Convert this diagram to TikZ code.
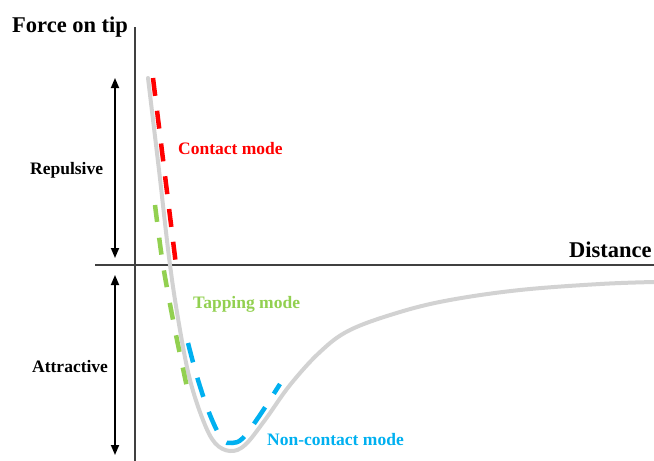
\documentclass[tikz,border=0pt]{standalone}
\usepackage{fontspec}
\setmainfont{Liberation Serif}
\usetikzlibrary{arrows.meta}
\definecolor{cred}{HTML}{FF0000}
\definecolor{cgreen}{HTML}{92D050}
\definecolor{cblue}{HTML}{00B0F0}
\definecolor{cgray}{HTML}{D2D2D2}
\definecolor{caxis}{HTML}{404040}
\tikzset{
  lbl/.style={anchor=base west, inner sep=0pt, font=\fontsize{17.5}{20}\selectfont\bfseries},
  biglbl/.style={anchor=base west, inner sep=0pt, font=\fontsize{22.5}{26}\selectfont\bfseries},
  axisline/.style={draw=caxis, line width=1.1pt},
  dblarrow/.style={draw=black, line width=1.7pt, {Triangle[length=10pt,width=8pt]}-{Triangle[length=10pt,width=8pt]}},
  modeline/.style={line width=4.5pt, dash pattern=on 18pt off 15pt},
  potential/.style={draw=cgray, line width=4pt}
}
\begin{document}
\begin{tikzpicture}[x=1pt,y=-1pt]
\useasboundingbox (0,0) rectangle (654,461);
% axes
\coordinate (ytop) at (135,27);
\coordinate (ybot) at (135,461);
\coordinate (xleft) at (95,265);
\coordinate (xright) at (654,265);
\draw[axisline] (ytop) -- (ybot);
\draw[axisline] (xleft) -- (xright);
% potential curve
\draw[potential, line cap=round] plot[smooth, tension=0.6] coordinates {
 (148,78) (159,170) (170,265) (180,330) (190,380) (203,420) (215,443) (230,451)
 (245,445) (265,420) (290,385) (320,352) (350,330) (400,312) (450,300)
 (520,290) (600,284) (654,282)};
% contact mode
\coordinate (c1) at (153,78);
\coordinate (c2) at (176,265);
\draw[cred, modeline] (c1) -- (c2);
% tapping mode
\draw[cgreen, modeline, dash pattern=on 17pt off 16pt] plot[smooth] coordinates {(155,205) (163,265) (175,330) (188,392)};
% non-contact mode
\draw[cblue, modeline, dash pattern=on 20pt off 16pt] plot[smooth, tension=0.6] coordinates {
 (188,343) (198,380) (210,415) (222,439) (232,443) (243,438) (260,415) (280,384)};
% arrows
\coordinate (r1) at (115,78);
\coordinate (r2) at (115,258);
\coordinate (a1) at (115,275);
\coordinate (a2) at (115,455);
\draw[dblarrow] (r1) -- (r2);
\draw[dblarrow] (a1) -- (a2);
% labels
\node[biglbl] (force) at (12,32) {Force on tip};
\node[biglbl] (dist) at (569,257) {Distance};
\node[lbl, text=cred] (contact) at (178,154) {Contact mode};
\node[lbl] (rep) at (30,174) {Repulsive};
\node[lbl, text=cgreen] (tap) at (193,308) {Tapping mode};
\node[lbl] (att) at (32,372) {Attractive};
\node[lbl, text=cblue] (noncontact) at (267,445) {Non-contact mode};
\end{tikzpicture}
\end{document}
